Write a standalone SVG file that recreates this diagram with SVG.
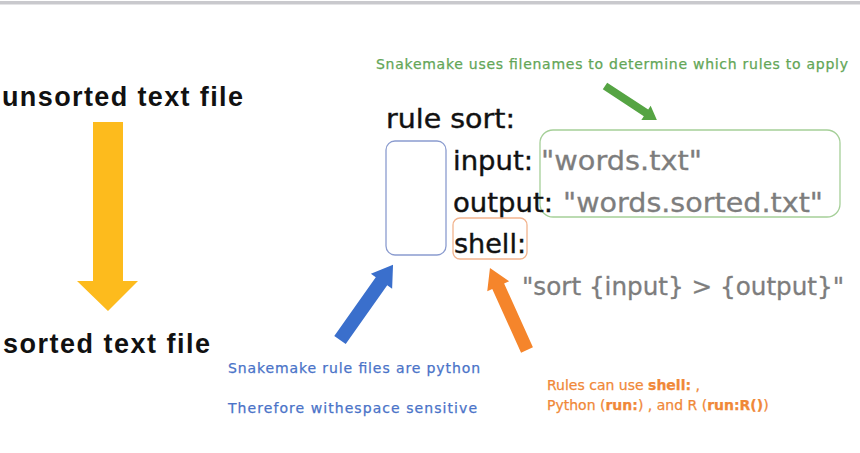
<svg xmlns="http://www.w3.org/2000/svg" width="860" height="453" viewBox="0 0 860 453">
  <style>
    .big { font-family: "Liberation Sans", Arial, sans-serif; font-weight: bold; font-size: 27px; fill: #111; }
    .code { font-family: "DejaVu Sans", "Open Sans", sans-serif; font-size: 27px; fill: #111; stroke: #111; stroke-width: 0.4; }
    .str { font-family: "DejaVu Sans", "Open Sans", sans-serif; font-size: 27px; fill: #7d7d7d; stroke: #7d7d7d; stroke-width: 0.3; }
    .cmd { font-size: 25px; }
    .note { font-family: "DejaVu Sans", "Open Sans", sans-serif; font-size: 14px; stroke-width: 0.25; }
    .green { fill: #63a657; stroke: #63a657; }
    .blue { fill: #4a73c8; stroke: #4a73c8; }
    .orange { fill: #f08838; stroke: #f08838; }
    .box { fill: none; stroke-width: 1.3; }
  </style>

  <rect width="860" height="453" fill="#ffffff"/>
  <!-- window edge at the top -->
  <rect x="0" y="1" width="860" height="3.5" fill="#c9c9cd"/>

  <g id="unsorted">
    <text class="big" x="2" y="106" textLength="241">unsorted text file</text>
  </g>
  <g id="sorted">
    <text class="big" x="3" y="353" textLength="207">sorted text file</text>
  </g>

  <g id="rule">
    <text class="code" x="386" y="128" textLength="129" lengthAdjust="spacingAndGlyphs">rule sort:</text>
  </g>
  <g id="indent-box">
    <rect class="box" x="386" y="141" width="60" height="114" rx="9" stroke="#8b9ccf"/>
  </g>
  <g id="files-box">
    <rect class="box" x="540" y="130" width="300" height="87" rx="13" stroke="#a5cf98"/>
  </g>
  <g id="input">
    <text class="code" x="453" y="170" textLength="80" lengthAdjust="spacingAndGlyphs">input:</text>
    <text class="str" x="541" y="170" textLength="161" lengthAdjust="spacingAndGlyphs">"words.txt"</text>
  </g>
  <g id="output">
    <text class="code" x="453" y="212" textLength="100" lengthAdjust="spacingAndGlyphs">output:</text>
    <text class="str" x="563" y="212" textLength="260" lengthAdjust="spacingAndGlyphs">"words.sorted.txt"</text>
  </g>
  <g id="shell">
    <rect class="box" x="453" y="218" width="74" height="41" rx="7" stroke="#f2b48e"/>
    <text class="code" x="454" y="253" textLength="72" lengthAdjust="spacingAndGlyphs">shell:</text>
    <text class="str cmd" x="522" y="295" textLength="322" lengthAdjust="spacingAndGlyphs">"sort {input} &gt; {output}"</text>
  </g>

  <g id="note-filenames">
    <text class="note green" x="376" y="69" textLength="472">Snakemake uses filenames to determine which rules to apply</text>
  </g>
  <g id="note-python">
    <text class="note blue" x="228" y="373" textLength="252">Snakemake rule files are python</text>
    <text class="note blue" x="228" y="413" textLength="249">Therefore withespace sensitive</text>
  </g>
  <g id="note-shell">
    <text class="note orange" x="547" y="390"><tspan>Rules can use </tspan><tspan font-weight="bold">shell:</tspan><tspan> ,</tspan></text>
    <text class="note orange" x="547" y="410"><tspan>Python (</tspan><tspan font-weight="bold">run:</tspan><tspan>) , and R (</tspan><tspan font-weight="bold">run:R()</tspan><tspan>)</tspan></text>
  </g>

  <g id="connectors">
    <!-- block arrow from unsorted to sorted -->
    <polygon points="93,122 123,122 123,281 138,281 108,311 77,281 93,281" fill="#fdbb1d"/>
    <!-- green pointer to the file names -->
    <path transform="translate(605,86) rotate(33.2)" d="M0,-4 L49,-4 L49,-8.5 L62,0 L49,8.5 L49,4 L0,4 Z" fill="#55a443"/>
    <!-- blue pointer to the indentation -->
    <path transform="translate(340,340) rotate(-54.8)" d="M0,-7 L72,-7 L72,-13 L92,0 L72,13 L72,7 L0,7 Z" fill="#3a6fcc"/>
    <!-- orange pointer to shell -->
    <path transform="translate(527,350) rotate(-114.3)" d="M0,-6.5 L70,-6.5 L70,-12 L90,0 L70,12 L70,6.5 L0,6.5 Z" fill="#f5852b"/>
  </g>
</svg>
